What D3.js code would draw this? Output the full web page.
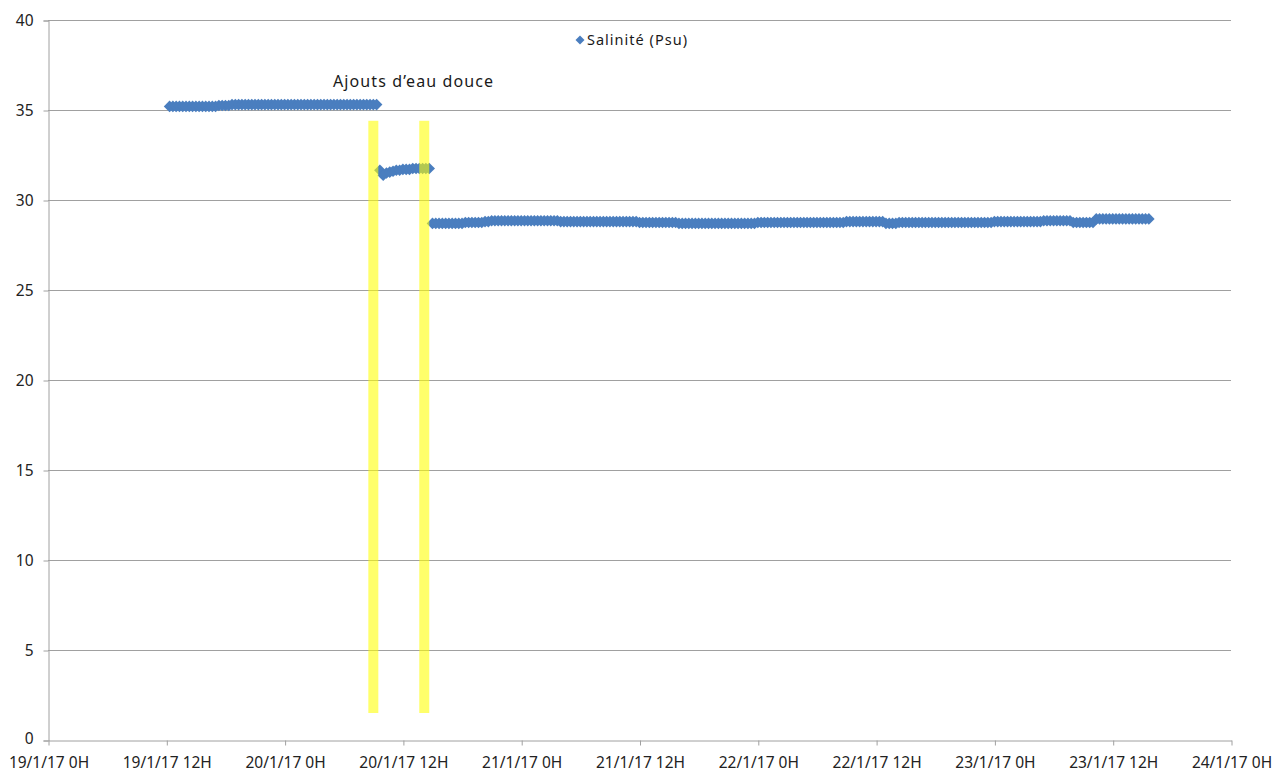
<!DOCTYPE html>
<html>
<head>
<meta charset="utf-8">
<script src="https://cdn.jsdelivr.net/npm/d3@7"></script>
<style>
  body { margin: 0; background: #fff; }
  text { font-family: "Noto Sans", "Open Sans", sans-serif; }
</style>
</head>
<body>
<div id="chart"></div>
<script>
// salinity readings, one every 20 minutes
const stepMinutes = 20;

// segment 1: from 19/1 12:20 to 20/1 09:00
const start1 = new Date(2017, 0, 19, 12, 20);
const salinity1 = [
  35.2, 35.2, 35.2, 35.2, 35.2, 35.2, 35.2, 35.2, 35.2, 35.2, 35.2, 35.2,
  35.2, 35.2, 35.2, 35.25, 35.25, 35.25, 35.25, 35.3, 35.3, 35.3, 35.3, 35.3,
  35.3, 35.3, 35.3, 35.3, 35.3, 35.3, 35.3, 35.3, 35.3, 35.3, 35.3, 35.3,
  35.3, 35.3, 35.3, 35.3, 35.3, 35.3, 35.3, 35.3, 35.3, 35.3, 35.3, 35.3,
  35.3, 35.3, 35.3, 35.3, 35.3, 35.3, 35.3, 35.3, 35.3, 35.3, 35.3, 35.3,
  35.3, 35.3, 35.3, 35.3
];

// segment 2: after first fresh water addition, 20/1 09:40 to 14:40
const start2 = new Date(2017, 0, 20, 9, 40);
const salinity2 = [
  31.65, 31.38, 31.5, 31.55, 31.6, 31.65, 31.65, 31.7, 31.7, 31.7, 31.75, 31.75,
  31.75, 31.75, 31.75, 31.75
];

// segment 3: after second addition, 20/1 15:00 to 23/1 15:40
const start3 = new Date(2017, 0, 20, 15, 0);
const salinity3 = [
  28.7, 28.7, 28.7, 28.7, 28.7, 28.7, 28.7, 28.7, 28.7, 28.7, 28.75, 28.75,
  28.75, 28.75, 28.75, 28.75, 28.8, 28.8, 28.85, 28.85, 28.85, 28.85, 28.85, 28.85,
  28.85, 28.85, 28.85, 28.85, 28.85, 28.85, 28.85, 28.85, 28.85, 28.85, 28.85, 28.85,
  28.85, 28.85, 28.85, 28.8, 28.8, 28.8, 28.8, 28.8, 28.8, 28.8, 28.8, 28.8,
  28.8, 28.8, 28.8, 28.8, 28.8, 28.8, 28.8, 28.8, 28.8, 28.8, 28.8, 28.8,
  28.8, 28.8, 28.8, 28.75, 28.75, 28.75, 28.75, 28.75, 28.75, 28.75, 28.75, 28.75,
  28.75, 28.75, 28.75, 28.7, 28.7, 28.7, 28.7, 28.7, 28.7, 28.7, 28.7, 28.7,
  28.7, 28.7, 28.7, 28.7, 28.7, 28.7, 28.7, 28.7, 28.7, 28.7, 28.7, 28.7,
  28.7, 28.7, 28.7, 28.75, 28.75, 28.75, 28.75, 28.75, 28.75, 28.75, 28.75, 28.75,
  28.75, 28.75, 28.75, 28.75, 28.75, 28.75, 28.75, 28.75, 28.75, 28.75, 28.75, 28.75,
  28.75, 28.75, 28.75, 28.75, 28.75, 28.75, 28.8, 28.8, 28.8, 28.8, 28.8, 28.8,
  28.8, 28.8, 28.8, 28.8, 28.8, 28.8, 28.7, 28.7, 28.7, 28.7, 28.75, 28.75,
  28.75, 28.75, 28.75, 28.75, 28.75, 28.75, 28.75, 28.75, 28.75, 28.75, 28.75, 28.75,
  28.75, 28.75, 28.75, 28.75, 28.75, 28.75, 28.75, 28.75, 28.75, 28.75, 28.75, 28.75,
  28.75, 28.75, 28.75, 28.8, 28.8, 28.8, 28.8, 28.8, 28.8, 28.8, 28.8, 28.8,
  28.8, 28.8, 28.8, 28.8, 28.8, 28.8, 28.85, 28.85, 28.85, 28.85, 28.85, 28.85,
  28.85, 28.85, 28.85, 28.75, 28.75, 28.75, 28.75, 28.75, 28.75, 28.75, 28.95, 28.95,
  28.95, 28.95, 28.95, 28.95, 28.95, 28.95, 28.95, 28.95, 28.95, 28.95, 28.95, 28.95,
  28.95, 28.95, 28.95
];

// fresh water additions (yellow bars): time and vertical extent in Psu
const additionTimes = [new Date(2017, 0, 20, 9, 0), new Date(2017, 0, 20, 14, 10)];
const additionRange = [1.5, 34.4];
const additionLabel = "Ajouts d\u2019eau douce";

const yTicks = [0, 5, 10, 15, 20, 25, 30, 35, 40];
const xStart = new Date(2017, 0, 19, 0, 0);
const xEnd = new Date(2017, 0, 24, 0, 0);
const seriesName = "Salinit\u00e9 (Psu)";

const width = 1276, height = 772;
const margin = { top: 20, right: 45, bottom: 32, left: 48 };

const toPoints = (start, values) => values.map((v, i) => ({
  t: d3.timeMinute.offset(start, i * stepMinutes), v: v
}));
const data = [].concat(toPoints(start1, salinity1), toPoints(start2, salinity2), toPoints(start3, salinity3));

const svg = d3.select('#chart').append('svg')
  .attr('width', width)
  .attr('height', height);

const x = d3.scaleTime()
  .domain([xStart, xEnd])
  .range([margin.left, width - margin.right]);

const y = d3.scaleLinear()
  .domain([0, 40])
  .range([height - margin.bottom, margin.top]);

const gridColor = '#a0a0a0';
const labelColor = '#222';

// horizontal gridlines
svg.append('g')
  .selectAll('line')
  .data(yTicks.filter(d => d > 0))
  .join('line')
  .attr('x1', margin.left)
  .attr('x2', width - margin.right)
  .attr('y1', d => Math.round(y(d)) + 0.5)
  .attr('y2', d => Math.round(y(d)) + 0.5)
  .attr('stroke', gridColor)
  .attr('stroke-width', 1);

// y axis
const yAxis = svg.append('g')
  .attr('transform', `translate(${margin.left + 0.5},0.5)`)
  .call(d3.axisLeft(y).tickValues(yTicks).tickSize(5).tickPadding(10));
yAxis.selectAll('path, line').attr('stroke', gridColor);
yAxis.selectAll('text')
  .attr('fill', labelColor)
  .style('font-size', '15.5px');
// keep the "0" label clear of the first date label below it
yAxis.selectAll('.tick text').filter(d => d === 0).attr('dy', '0.2em');

// x axis
const xTicks = d3.timeHour.every(12).range(xStart, d3.timeHour.offset(xEnd, 1));
const fmt = d => `${d.getDate()}/${d.getMonth() + 1}/17 ${d.getHours()}H`;
const xAxis = svg.append('g')
  .attr('transform', `translate(0.5,${Math.round(y(0)) + 0.5})`)
  .call(d3.axisBottom(x).tickValues(xTicks).tickFormat(fmt).tickSize(5).tickSizeOuter(0).tickPadding(11));
xAxis.selectAll('path, line').attr('stroke', gridColor);
xAxis.selectAll('text')
  .attr('fill', labelColor)
  .style('font-size', '15.5px');

// diamond markers
const diamond = r => `M0,${-r}L${r},0L0,${r}L${-r},0Z`;
const blue = '#4a7ebf';

svg.append('g')
  .selectAll('path')
  .data(data)
  .join('path')
  .attr('d', diamond(5.8))
  .attr('transform', d => `translate(${x(d.t)},${y(d.v)})`)
  .attr('fill', blue);

// yellow bars for fresh water additions
svg.append('g')
  .selectAll('rect')
  .data(additionTimes)
  .join('rect')
  .attr('x', d => x(d) - 5)
  .attr('width', 10)
  .attr('y', y(additionRange[1]))
  .attr('height', y(additionRange[0]) - y(additionRange[1]))
  .attr('fill', '#ffff00')
  .attr('opacity', 0.58);

svg.append('text')
  .attr('x', 333)
  .attr('y', 87)
  .attr('fill', '#1a1a1a')
  .attr('textLength', 160)
  .attr('lengthAdjust', 'spacing')
  .style('font-size', '16px')
  .text(additionLabel);

// legend
const legend = svg.append('g')
  .attr('transform', 'translate(580,40)');
legend.append('path')
  .attr('d', diamond(4.5))
  .attr('fill', blue);
legend.append('text')
  .attr('x', 7)
  .attr('dy', '0.35em')
  .attr('fill', '#1a1a1a')
  .attr('textLength', 100)
  .attr('lengthAdjust', 'spacing')
  .style('font-size', '14.5px')
  .text(seriesName);
</script>
</body>
</html>
